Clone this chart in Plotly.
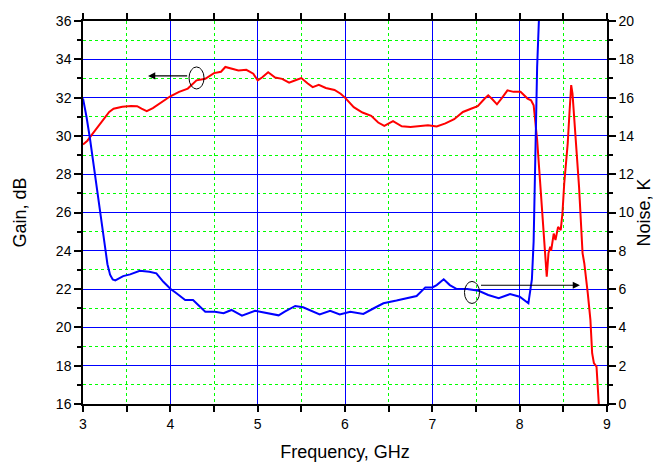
import plotly.graph_objects as go

# Gain (left axis, dB) vs frequency (GHz)
gain_freq = [3.00, 3.05, 3.10, 3.20, 3.30, 3.35, 3.45, 3.55, 3.62, 3.67, 3.73, 3.80, 3.90,
             4.00, 4.10, 4.20, 4.30, 4.40, 4.50, 4.58, 4.63, 4.70, 4.78, 4.87, 4.95,
             5.00, 5.05, 5.12, 5.20, 5.28, 5.36, 5.44, 5.50, 5.57, 5.63, 5.70, 5.78, 5.88, 5.95,
             6.00, 6.10, 6.20, 6.30, 6.38, 6.45, 6.55, 6.65, 6.75, 6.85, 6.95,
             7.05, 7.15, 7.25, 7.35, 7.45, 7.52, 7.60, 7.64, 7.69, 7.74, 7.80, 7.86, 7.93,
             8.01, 8.09, 8.13, 8.16, 8.18, 8.20, 8.23, 8.27, 8.31, 8.33, 8.35, 8.36, 8.39,
             8.41, 8.44, 8.47, 8.49, 8.51, 8.55, 8.57, 8.59, 8.605, 8.64, 8.68, 8.72, 8.74,
             8.78, 8.81, 8.83, 8.85, 8.88, 8.906]
gain_db = [29.55, 29.75, 30.05, 30.65, 31.25, 31.42, 31.52, 31.56, 31.55, 31.42, 31.29, 31.45, 31.75,
           32.07, 32.30, 32.47, 32.90, 32.98, 33.28, 33.35, 33.60, 33.50, 33.42, 33.45, 33.25,
           32.90, 33.05, 33.32, 33.05, 32.98, 32.78, 32.92, 33.02, 32.75, 32.55, 32.67, 32.50, 32.40, 32.20,
           32.00, 31.50, 31.22, 31.05, 30.70, 30.52, 30.77, 30.50, 30.47, 30.53, 30.56,
           30.49, 30.65, 30.87, 31.25, 31.43, 31.55, 31.95, 32.12, 31.90, 31.65, 32.00, 32.38, 32.30,
           32.30, 31.95, 31.86, 31.60, 30.60, 29.80, 27.86, 25.25, 22.65, 23.88, 24.21, 24.00, 24.90,
           24.56, 25.25, 25.08, 25.97, 27.50, 29.60, 31.18, 32.65, 32.21, 30.13, 27.34, 23.88, 23.35,
           21.78, 20.39, 18.65, 18.13, 17.95, 16.00]

# Noise (right axis, K) vs frequency (GHz)
noise_freq = [3.00, 3.02, 3.04, 3.08, 3.12, 3.16, 3.20, 3.24, 3.28, 3.31, 3.34, 3.37,
              3.46, 3.54, 3.65, 3.76, 3.84, 3.92, 4.00, 4.07, 4.17, 4.26, 4.32, 4.40,
              4.51, 4.61, 4.70, 4.82, 4.97, 5.10, 5.24, 5.31, 5.43, 5.52, 5.62, 5.71,
              5.83, 5.94, 6.06, 6.21, 6.33, 6.44, 6.59, 6.73, 6.82, 6.92, 7.00, 7.05,
              7.13, 7.20, 7.28, 7.40, 7.53, 7.64, 7.76, 7.89, 8.00, 8.10, 8.14, 8.16,
              8.18, 8.20, 8.22, 8.23]
noise_k = [15.95, 15.55, 15.00, 13.85, 12.50, 11.10, 9.75, 8.40, 7.30, 6.75, 6.50, 6.45,
           6.68, 6.77, 6.96, 6.91, 6.82, 6.38, 6.02, 5.78, 5.43, 5.43, 5.17, 4.82,
           4.82, 4.74, 4.91, 4.61, 4.87, 4.74, 4.63, 4.82, 5.12, 5.05, 4.87, 4.68,
           4.87, 4.68, 4.82, 4.70, 5.00, 5.26, 5.40, 5.57, 5.64, 6.09, 6.09, 6.21,
           6.51, 6.21, 6.00, 6.00, 5.91, 5.69, 5.52, 5.74, 5.60, 5.26, 6.50, 8.50,
           14.10, 17.60, 20.00, 21.00]

x_ticks = [3, 4, 5, 6, 7, 8, 9]
gain_ticks = [16, 18, 20, 22, 24, 26, 28, 30, 32, 34, 36]
noise_ticks = [0, 2, 4, 6, 8, 10, 12, 14, 16, 18, 20]

FONT = "Liberation Sans, Arial, sans-serif"
MAJOR = "#0000FF"
MINOR = "#00FF00"

fig = go.Figure()
fig.add_trace(go.Scatter(x=noise_freq, y=noise_k, yaxis="y2", mode="lines",
                         line=dict(color="#0000FF", width=2), cliponaxis=True))
fig.add_trace(go.Scatter(x=gain_freq, y=gain_db, yaxis="y", mode="lines",
                         line=dict(color="#FF0000", width=2)))

axis_common = dict(showline=True, linecolor="black", linewidth=1.5, ticks="outside",
                   tickcolor="black", tickwidth=1.5, tickfont=dict(family=FONT, size=14, color="black"),
                   zeroline=False, automargin=False)

# page body has an 8px margin, so the figure is 8px smaller and margins shifted
fig.update_layout(
    width=653, height=454,
    margin=dict(l=75, r=54, t=13, b=58, autoexpand=False),
    paper_bgcolor="white", plot_bgcolor="white",
    showlegend=False,
    font=dict(family=FONT, color="black"),
    xaxis=dict(range=[3, 9], tickvals=x_ticks, ticklen=6, mirror="allticks",
               showgrid=True, gridcolor=MAJOR, gridwidth=1,
               minor=dict(dtick=0.5, tick0=3, ticks="outside", ticklen=4, tickcolor="black",
                          tickwidth=1.5, showgrid=True, gridcolor=MINOR, griddash="dot", gridwidth=1),
               title=dict(text="Frequency, GHz", font=dict(family=FONT, size=18), standoff=15),
               **axis_common),
    yaxis=dict(range=[16, 36], tickvals=gain_ticks, ticklen=7,
               showgrid=True, gridcolor=MAJOR, gridwidth=1,
               minor=dict(dtick=1, tick0=16, ticks="outside", ticklen=4, tickcolor="black",
                          tickwidth=1.5, showgrid=True, gridcolor=MINOR, griddash="dot", gridwidth=1),
               title=dict(text="Gain, dB", font=dict(family=FONT, size=18), standoff=25),
               **axis_common),
    yaxis2=dict(range=[0, 20], tickvals=noise_ticks, ticklen=7, overlaying="y", side="right",
                showgrid=False,
                minor=dict(dtick=1, tick0=0, ticks="outside", ticklen=4, tickcolor="black",
                           tickwidth=1.5, showgrid=False),
                title=dict(text="Noise, K", font=dict(family=FONT, size=18), standoff=2),
                **axis_common),
)

# ellipse markers and arrows pointing to the relevant axis
fig.add_shape(type="circle", xref="x", yref="y", x0=4.214, x1=4.386, y0=32.45, y1=33.60,
              line=dict(color="black", width=1))
fig.add_shape(type="circle", xref="x", yref="y2", x0=7.368, x1=7.540, y0=5.25, y1=6.40,
              line=dict(color="black", width=1))
fig.add_annotation(x=3.745, y=33.13, ax=4.21, ay=33.13, xref="x", yref="y", axref="x", ayref="y",
                   text="", showarrow=True, arrowhead=2, arrowsize=1.2, arrowwidth=1.2, arrowcolor="black")
fig.add_annotation(x=8.69, y=6.2, ax=7.54, ay=6.2, xref="x", yref="y2", axref="x", ayref="y2",
                   text="", showarrow=True, arrowhead=2, arrowsize=1.2, arrowwidth=1.2, arrowcolor="black")

fig.write_html("out.html")
